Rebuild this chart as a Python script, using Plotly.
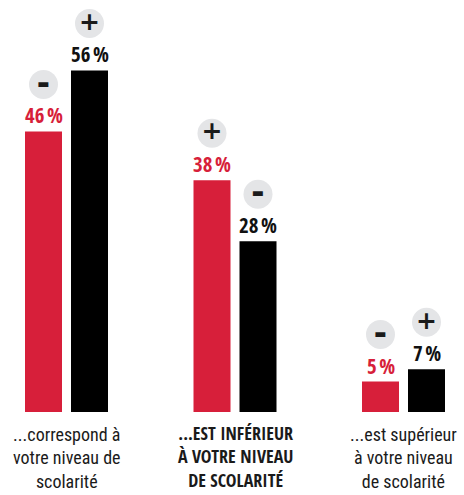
import plotly.graph_objects as go

categories = ["...correspond à<br>votre niveau de<br>scolarité",
              "...EST INFÉRIEUR<br>À VOTRE NIVEAU<br>DE SCOLARITÉ",
              "...est supérieur<br>à votre niveau<br>de scolarité"]
category_bold = [False, True, False]
red_values = [46, 38, 5]
black_values = [56, 28, 7]
red_signs = ["−", "+", "−"]
black_signs = ["+", "−", "+"]

RED = "#d71f3a"
BLACK = "#000000"
CIRCLE = "#e4e5e7"
TXT = "#1a1a1a"
BOLD_FONT = "Open Sans Condensed, Roboto Condensed, sans-serif"
REG_FONT = "Roboto Condensed, Roboto, sans-serif"

PX_PER_UNIT_Y = 6.1
PLOT_H = 412
X_UNIT_PX = 168.5
W, H = 464, 495

xs = [0, 1, 2]
bar_w = 37 / X_UNIT_PX
red_off = -41.5 / X_UNIT_PX
black_off = 4.5 / X_UNIT_PX
red_c = [x + red_off + bar_w / 2 for x in xs]
black_c = [x + black_off + bar_w / 2 for x in xs]
circle_dy = 47 / PX_PER_UNIT_Y

fig = go.Figure()
fig.add_trace(go.Bar(x=xs, y=red_values, width=bar_w, offset=red_off,
                     marker=dict(color=RED, line=dict(width=0)), hoverinfo="skip"))
fig.add_trace(go.Bar(x=xs, y=black_values, width=bar_w, offset=black_off,
                     marker=dict(color=BLACK, line=dict(width=0)), hoverinfo="skip"))

# sign circles
all_c = red_c + black_c
all_v = red_values + black_values
all_s = red_signs + black_signs
plus_x = [c for c, s in zip(all_c, all_s) if s == "+"]
plus_y = [v + circle_dy for v, s in zip(all_v, all_s) if s == "+"]
minus_x = [c for c, s in zip(all_c, all_s) if s != "+"]
minus_y = [v + circle_dy for v, s in zip(all_v, all_s) if s != "+"]
fig.add_trace(go.Scatter(
    x=plus_x, y=plus_y, mode="markers+text",
    marker=dict(size=29, color=CIRCLE, line=dict(width=0)),
    text=["+"] * len(plus_x), textposition="middle center",
    textfont=dict(family="DejaVu Sans, sans-serif", size=25, color=TXT, weight="bold"),
    hoverinfo="skip", cliponaxis=False))
fig.add_trace(go.Scatter(
    x=minus_x, y=minus_y, mode="markers+text",
    marker=dict(size=29, color=CIRCLE, line=dict(width=0)),
    text=["▬"] * len(minus_x), textposition="middle center",
    textfont=dict(family="DejaVu Sans, sans-serif", size=13, color=TXT),
    hoverinfo="skip", cliponaxis=False))

annotations = []
for xc, v in zip(red_c, red_values):
    annotations.append(dict(x=xc, y=v, xref="x", yref="y", text=f"{v}\u202f%",
                            showarrow=False, yanchor="middle", yshift=16,
                            font=dict(family=BOLD_FONT, size=21, color=RED, weight="bold")))
for xc, v in zip(black_c, black_values):
    annotations.append(dict(x=xc, y=v, xref="x", yref="y", text=f"{v}\u202f%",
                            showarrow=False, yanchor="middle", yshift=16,
                            font=dict(family=BOLD_FONT, size=21, color="#111111", weight="bold")))

for x, c, b in zip(xs, categories, category_bold):
    annotations.append(dict(
        x=x, y=(PLOT_H - 493.5) / PLOT_H, xref="x", yref="paper",
        text=c, showarrow=False, yanchor="bottom", xanchor="center", align="center",
        font=dict(family=BOLD_FONT if b else REG_FONT, size=18, color=TXT,
                  weight="bold" if b else "normal")))

x0 = -66.5 / X_UNIT_PX
fig.update_layout(
    width=W, height=H,
    margin=dict(l=0, r=0, t=0, b=H - PLOT_H),
    paper_bgcolor="white", plot_bgcolor="white",
    showlegend=False,
    xaxis=dict(range=[x0, x0 + W / X_UNIT_PX], visible=False, fixedrange=True),
    yaxis=dict(range=[0, PLOT_H / PX_PER_UNIT_Y], visible=False, fixedrange=True),
    annotations=annotations,
)
fig.write_html("out.html", config={"displayModeBar": False},
               post_script="document.body.style.margin='0';")
